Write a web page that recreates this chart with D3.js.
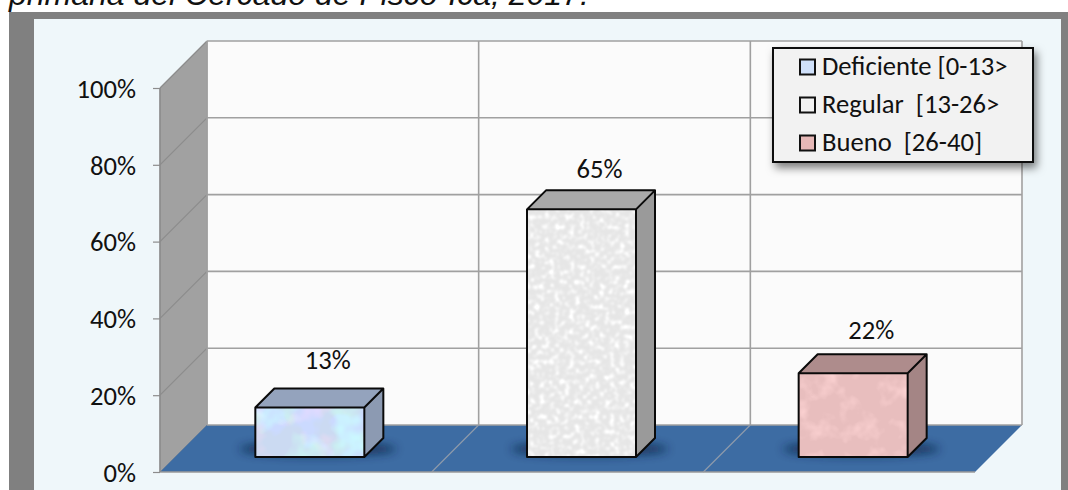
<!DOCTYPE html>
<html><head><meta charset="utf-8">
<script src="https://cdn.jsdelivr.net/npm/d3@7"></script>
<style>html,body{margin:0;padding:0;background:#fff;overflow:hidden}svg{display:block}</style>
</head><body><svg id="c" width="1068" height="490"></svg>
<script>
const categories=["Deficiente [0-13>","Regular  [13-26>","Bueno  [26-40]"];
const values=[13,65,22];
const valueLabels=["13%","65%","22%"];
const ticks=[0,20,40,60,80,100];
const titleText="primaria del Cercado de Pisco-Ica, 2017.";
const faceColors=["#cbdaf2","#e6e6e6","#e8bebe"];
const topColors=["#94a3bd","#a9a9a9","#ae8c8c"];
const sideColors=["#8c9ab2","#9a9a9a","#a48585"];
const legendColors=["#cfe0fa","#f2f2f2","#e6b8b7"];

const svg=d3.select("#c");
const defs=svg.append("defs");
const blur=defs.append("filter").attr("id","blur").attr("x","-30%").attr("y","-100%").attr("width","160%").attr("height","300%");
blur.append("feGaussianBlur").attr("stdDeviation",5);
const ls=defs.append("filter").attr("id","ls").attr("x","-10%").attr("y","-10%").attr("width","125%").attr("height","130%");
ls.append("feDropShadow").attr("dx",3).attr("dy",5).attr("stdDeviation",4).attr("flood-color","#000").attr("flood-opacity",.5);
function tex(id,freq,oct,amp,colored,soft){
  const f=defs.append("filter").attr("id",id).attr("x",0).attr("y",0).attr("width","100%").attr("height","100%").attr("color-interpolation-filters","sRGB");
  f.append("feTurbulence").attr("type","fractalNoise").attr("baseFrequency",freq).attr("numOctaves",oct).attr("seed",4).attr("result","n");
  const m=colored
    ?`${amp} 0 0 0 ${-amp/2} 0 ${amp} 0 0 ${-amp/2} 0 0 ${amp} 0 ${-amp/2} 0 0 0 0 1`
    :`${amp} 0 0 0 ${-amp/2} ${amp} 0 0 0 ${-amp/2} ${amp} 0 0 0 ${-amp/2} 0 0 0 0 1`;
  f.append("feColorMatrix").attr("in","n").attr("type","matrix").attr("values",m).attr("result","g0");
  f.append("feGaussianBlur").attr("in","g0").attr("stdDeviation",soft).attr("result","g");
  f.append("feComposite").attr("in","SourceGraphic").attr("in2","g").attr("operator","arithmetic")
   .attr("k1",0).attr("k2",1).attr("k3",1).attr("k4",0).attr("result","m");
  f.append("feComposite").attr("in","m").attr("in2","SourceAlpha").attr("operator","in");
}
tex("t0",.03,3,.42,true,.5);tex("t1",.2,3,.5,false,.8);tex("t2",.05,3,.2,false,.5);

const FONT="Carlito, Lato, 'Open Sans', 'Noto Sans'";
const FS=26.6;

// title + frame
svg.append("text").attr("x",9).attr("y",5).attr("font-family","Liberation Sans").attr("font-style","italic").attr("font-size",32).attr("fill","#111").text(titleText);
svg.append("rect").attr("x",9).attr("y",12).attr("width",1059).attr("height",478).attr("fill","#808080");
svg.append("rect").attr("x",34).attr("y",19).attr("width",1027).attr("height",471).attr("fill","#eff7fa");

// scales
const dx=47,dy=-47;
const y=d3.scaleLinear().domain([0,100]).range([472,88]);
const x=d3.scaleBand().domain(categories).range([160,975]);
const g="#a0a0a0";
const xl=160,xr=975;
const poly=p=>p.map(q=>q.join(",")).join(" ");

// walls and floor
svg.append("rect").attr("x",xl+dx).attr("y",y(100)+dy).attr("width",xr-xl+1).attr("height",y(0)-y(100)).attr("fill","#fbfbfb");
svg.append("polygon").attr("points",poly([[xl,y(0)],[xl,y(100)],[xl+dx,y(100)+dy],[xl+dx,y(0)+dy]])).attr("fill","#a1a1a1").attr("stroke","#909090").attr("stroke-width",1);
svg.append("polygon").attr("points",poly([[xl,y(0)],[xr,y(0)],[xr+dx,y(0)+dy],[xl+dx,y(0)+dy]])).attr("fill","#3d6ca3");
// gridlines
ticks.forEach(t=>{
  if(t>0) svg.append("line").attr("x1",xl).attr("y1",y(t)).attr("x2",xl+dx).attr("y2",y(t)+dy).attr("stroke","#8c8c8c").attr("stroke-width",1.2);
  svg.append("line").attr("x1",xl+dx).attr("y1",y(t)+dy).attr("x2",xr+dx).attr("y2",y(t)+dy).attr("stroke",g).attr("stroke-width",1.6);
});
categories.forEach((c,i)=>{
  const X=x(c);
  if(i>0) svg.append("line").attr("x1",X).attr("y1",y(0)).attr("x2",X+dx).attr("y2",y(0)+dy).attr("stroke","#8f9bab").attr("stroke-width",1.2);
  svg.append("line").attr("x1",X+dx).attr("y1",y(0)+dy).attr("x2",X+dx).attr("y2",y(100)+dy).attr("stroke",g).attr("stroke-width",1.6);
});
svg.append("line").attr("x1",xr+dx).attr("y1",y(0)+dy).attr("x2",xr+dx).attr("y2",y(100)+dy).attr("stroke",g).attr("stroke-width",1.6);
svg.append("line").attr("x1",xl).attr("y1",y(0)).attr("x2",xr).attr("y2",y(0)).attr("stroke","#9a9a9a").attr("stroke-width",1.6);
svg.append("line").attr("x1",xl).attr("y1",y(100)).attr("x2",xl).attr("y2",y(0)).attr("stroke","#8c8c8c").attr("stroke-width",1.4);

// axis
const axis=d3.axisLeft(y).tickValues(ticks).tickFormat(d=>d+"%").tickSize(7).tickPadding(17);
const ag=svg.append("g").attr("transform",`translate(${xl},0)`).call(axis);
ag.select(".domain").remove();
ag.selectAll("line").attr("stroke","#8c8c8c").attr("stroke-width",1.2);
ag.selectAll("text").attr("font-family",FONT).attr("font-size",FS).attr("fill","#111").attr("dy","0.35em");

// bars
const barW=109,d=19,base=457;
const barH=d3.scaleLinear().domain([0,100]).range([0,381]);
const labelGap=[19,12,15];
const fx=i=>x(categories[i])+(x.bandwidth()-barW)/2+14;
values.forEach((v,i)=>{
  const X=fx(i),top=base-barH(v);
  svg.append("ellipse").attr("cx",X+barW/2+8).attr("cy",base-8).attr("rx",barW/2+24).attr("ry",7).attr("fill","#0c2444").attr("opacity",.75).attr("filter","url(#blur)");
  svg.append("rect").attr("x",X).attr("y",top).attr("width",barW).attr("height",base-top).attr("fill",faceColors[i]).attr("filter",`url(#t${i})`);
  svg.append("polygon").attr("points",poly([[X,top],[X+d,top-d],[X+barW+d,top-d],[X+barW,top]])).attr("fill",topColors[i]);
  svg.append("polygon").attr("points",poly([[X+barW,top],[X+barW+d,top-d],[X+barW+d,base-d],[X+barW,base]])).attr("fill",sideColors[i]);
  svg.append("path").attr("d",`M${X},${top}L${X+d},${top-d}H${X+barW+d}V${base-d}L${X+barW},${base}H${X}ZM${X},${top}H${X+barW}V${base}M${X+barW},${top}L${X+barW+d},${top-d}`)
    .attr("fill","none").attr("stroke","#0a0a0a").attr("stroke-width",2).attr("stroke-linejoin","round");
  svg.append("text").attr("x",X+barW/2+18).attr("y",top-d-labelGap[i]).attr("text-anchor","middle").attr("font-family",FONT).attr("font-size",FS).attr("fill","#111").text(valueLabels[i]);
});

// legend
const lg=svg.append("g");
lg.append("rect").attr("x",773).attr("y",48).attr("width",260).attr("height",114).attr("fill","#f2f2f2").attr("stroke","#0a0a0a").attr("stroke-width",2).attr("filter","url(#ls)");
categories.forEach((c,i)=>{
  const cy=67+i*38;
  lg.append("rect").attr("x",800).attr("y",cy-7.5).attr("width",15).attr("height",15).attr("fill",legendColors[i]).attr("stroke","#111").attr("stroke-width",2);
  lg.append("text").attr("x",822).attr("y",cy+8).style("white-space","pre").attr("font-family",FONT).attr("font-size",FS).attr("fill","#111").text(c);
});
</script></body></html>
